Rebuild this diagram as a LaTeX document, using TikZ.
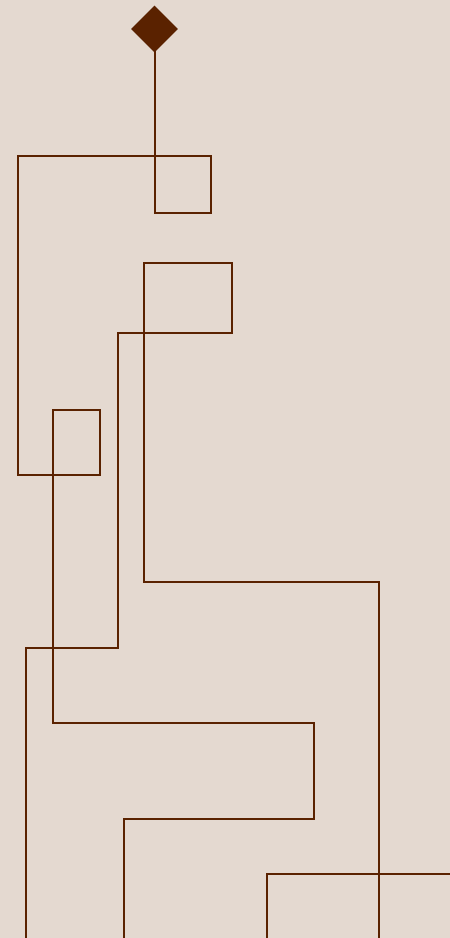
\documentclass[tikz,border=0pt]{standalone}
\usetikzlibrary{shapes.geometric}
\definecolor{bg}{HTML}{E4D9D0}
\definecolor{ln}{HTML}{5A2200}
\begin{document}
\begin{tikzpicture}[x=1pt,y=-1pt,
  trace/.style={draw=ln,line width=2pt,line join=miter,line cap=rect},
  gem/.style={diamond,fill=ln,draw=none,minimum width=47pt,minimum height=47pt,inner sep=0pt}]
\fill[bg] (0,0) rectangle (450,938);
\useasboundingbox (0,0) rectangle (450,938);
\node[gem] (d) at (154.5,29) {};
\coordinate (e1) at (124,940);
\coordinate (s2) at (26,940);
\coordinate (e2) at (379,940);
\coordinate (s3) at (267,940);
\coordinate (e3) at (452,874);
% path 1
\draw[trace] (d.center) -- (154.5,213) -- (210.5,213) -- (210.5,156) -- (17.5,156)
  -- (17.5,474.5) -- (99.5,474.5) -- (99.5,410) -- (53,410) -- (53,722.5)
  -- (314,722.5) -- (314,819) -- (124,819) -- (e1);
% path 2
\draw[trace] (s2) -- (26,648) -- (118,648) -- (118,333) -- (231.5,333)
  -- (231.5,263) -- (144,263) -- (144,582) -- (379,582) -- (e2);
% path 3
\draw[trace] (s3) -- (267,874) -- (e3);
\end{tikzpicture}
\end{document}
